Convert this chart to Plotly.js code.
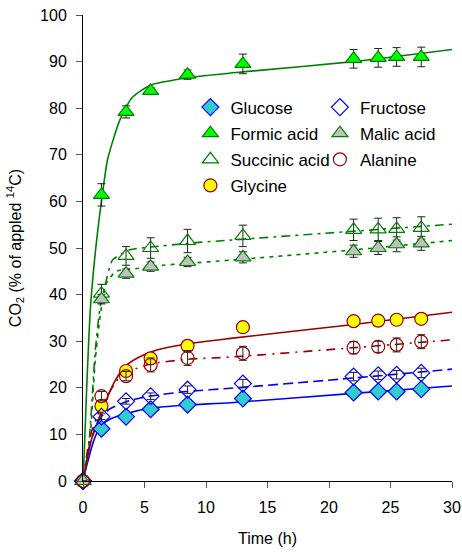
<!DOCTYPE html>
<html>
<head>
<meta charset="utf-8">
<script src="https://cdn.plot.ly/plotly-3.0.1.min.js"></script>
<style>html,body{margin:0;padding:0;background:#fff;}#chart{width:462px;height:552px;}</style>
</head>
<body>
<div id="chart"></div>
<script>
// Sampling times (h)
const time = [0, 1.5, 3.5, 5.5, 8.5, 13, 22, 24, 25.5, 27.5];

// Measured CO2 (% of applied 14C)
const glucose   = [0, 11.2, 13.8, 15.4, 16.4, 17.7, 19.0, 19.2, 19.2, 19.7];
const glucoseErr = [0, 0.3, 0.3, 0.3, 0.3, 0.3, 0.3, 0.3, 0.3, 0.3];
const fructose  = [0, 13.8, 17.1, 18.2, 19.6, 20.9, 22.4, 22.7, 22.8, 23.2];
const fructoseErr = [0, 0.6, 0.6, 0.7, 0.8, 0.9, 0.9, 0.9, 0.9, 1.0];
const formic    = [0, 61.4, 79.2, 83.7, 87.2, 89.5, 90.6, 90.8, 91.0, 91.0];
const formicErr = [0, 2.4, 1.3, 0.7, 1.0, 2.1, 2.0, 2.0, 2.0, 2.1];
const malic     = [0, 39.0, 44.5, 46.0, 47.0, 48.0, 49.3, 50.0, 50.8, 51.0];
const malicErr  = [0, 1.0, 1.0, 1.0, 1.0, 1.2, 1.3, 1.4, 1.6, 1.5];
const succinic  = [0, 40.2, 48.3, 50.0, 51.5, 52.6, 53.9, 54.0, 54.1, 54.3];
const succinicErr = [0, 2.0, 2.0, 2.2, 2.5, 2.3, 2.3, 2.4, 2.4, 2.4];
const alanine   = [0, 18.2, 22.5, 24.9, 26.4, 27.4, 28.6, 28.8, 29.2, 29.9];
const alanineErr = [0, 1.0, 1.0, 1.5, 1.6, 1.5, 1.3, 1.2, 1.5, 1.5];
const glycine   = [0, 16.1, 23.6, 26.3, 29.0, 33.0, 34.3, 34.4, 34.6, 34.8];
const glycineErr = [0, 0.2, 0.2, 0.2, 0.2, 0.2, 0.2, 0.2, 0.2, 0.2];

// Fitted curves
const fitFormicT   = [0, 0.1, 0.3, 0.6, 1.0, 1.5, 2.0, 3.0, 4.0, 5.5, 7.3, 10, 13, 22, 30];
const fitFormic    = [0, 6, 20, 37, 49, 60, 69, 77.5, 82.3, 85, 86, 87, 87.8, 90.0, 92.6];
const fitSuccT     = [0, 0.45, 1.0, 1.4, 1.8, 2.4, 3.8, 5.5, 8.5, 12, 22, 30];
const fitSucc      = [0, 7, 28, 37.5, 42, 47.4, 49.6, 50.2, 51.0, 51.7, 53.6, 55.1];
const fitMalicT    = [0, 0.5, 1.0, 1.4, 1.9, 2.7, 4.4, 6.5, 8.5, 12, 22, 30];
const fitMalic     = [0, 7, 26, 35.5, 42.4, 45.0, 45.6, 46.3, 46.7, 47.4, 49.6, 51.6];
const fitGlycineT  = [0, 0.35, 0.8, 1.5, 2.5, 3.4, 4.5, 6, 8.4, 12, 22, 30];
const fitGlycine   = [0, 5, 10, 14.8, 21, 24.5, 26.5, 28.1, 29.4, 30.6, 33.6, 36.2];
const fitAlanineT  = [0, 0.57, 1.4, 3, 4, 5.5, 8.4, 12, 22, 30];
const fitAlanine   = [0, 9.5, 15.5, 22.4, 23.8, 25.1, 26.1, 26.6, 28.6, 30.3];
const fitFructoseT = [0, 0.57, 1.4, 2.2, 3.5, 5.2, 8.4, 12, 22, 30];
const fitFructose  = [0, 8, 13.5, 15.5, 17.0, 18.1, 19.2, 19.9, 22.1, 24.0];
const fitGlucoseT  = [0, 0.35, 0.84, 1.4, 2.3, 3.4, 5.45, 8.4, 12, 22, 30];
const fitGlucose   = [0, 3.8, 8.4, 11.7, 13.4, 14.4, 15.6, 16.3, 16.8, 18.8, 20.4];

const xTicks = [0, 5, 10, 15, 20, 25, 30];
const yTicks = [0, 10, 20, 30, 40, 50, 60, 70, 80, 90, 100];

const BLUE = '#0000FF', GREEN = '#008000', RED = '#990000';

function fit(x, y, color, dash) {
  return {x: x, y: y, type: 'scatter', mode: 'lines', showlegend: false, hoverinfo: 'skip',
          line: {color: color, width: 1.6, dash: dash, shape: 'spline', smoothing: 0.6}};
}
function pts(name, y, err, symbol, fill, border, legend, size) {
  return {x: time, y: y, name: name, type: 'scatter', mode: 'markers', legend: legend,
          legendgroup: name, cliponaxis: false,
          marker: {symbol: symbol, size: size || 12, color: fill, line: {color: border, width: 1.2}},
          error_y: {type: 'data', array: err, visible: true, color: '#222', thickness: 1, width: 4}};
}

const data = [
  fit(fitGlucoseT, fitGlucose, BLUE, 'solid'),
  fit(fitFructoseT, fitFructose, BLUE, '10px,5px'),
  fit(fitFormicT, fitFormic, GREEN, 'solid'),
  fit(fitMalicT, fitMalic, GREEN, '4px,5px'),
  fit(fitSuccT, fitSucc, GREEN, '9px,5px,3px,5px'),
  fit(fitAlanineT, fitAlanine, RED, '9px,6px,2px,6px'),
  fit(fitGlycineT, fitGlycine, RED, 'solid'),
  pts('Glucose', glucose, glucoseErr, 'diamond', '#33CCCC', BLUE, 'legend', 13),
  pts('Formic acid', formic, formicErr, 'triangle-up', '#00FF00', GREEN, 'legend', 14),
  pts('Succinic acid', succinic, succinicErr, 'triangle-up-open', GREEN, GREEN, 'legend', 14),
  pts('Glycine', glycine, glycineErr, 'circle', '#FFFF00', RED, 'legend', 13),
  pts('Fructose', fructose, fructoseErr, 'diamond-open', BLUE, BLUE, 'legend2', 13),
  pts('Malic acid', malic, malicErr, 'triangle-up', '#C0C0C0', GREEN, 'legend2', 14),
  pts('Alanine', alanine, alanineErr, 'circle-open', RED, RED, 'legend2', 13)
];

const FAM = 'Liberation Sans, Arial, sans-serif';
const tickFont = {family: FAM, size: 16, color: '#000'};
const titleFont = {family: FAM, size: 16, color: '#000'};
const legFont = {family: FAM, size: 17, color: '#000'};
const layout = {
  width: 462, height: 552,
  margin: {l: 83, r: 10, t: 15, b: 71},
  paper_bgcolor: '#fff', plot_bgcolor: '#fff',
  font: tickFont,
  xaxis: {range: [0, 30], tickvals: xTicks, ticks: 'outside', ticklen: 6, tickcolor: '#555',
          showline: true, linecolor: '#000', linewidth: 1, showgrid: false, zeroline: false,
          tickfont: tickFont, ticklabelstandoff: 6,
          title: {text: 'Time (h)', font: titleFont, standoff: 17}},
  yaxis: {range: [0, 100], tickvals: yTicks, ticks: 'outside', ticklen: 6, tickcolor: '#555',
          showline: true, linecolor: '#000', linewidth: 1, showgrid: false, zeroline: false,
          tickfont: tickFont, ticklabelstandoff: 6,
          title: {text: 'CO<sub>2</sub> (% of appled <sup>14</sup>C)', font: titleFont, standoff: 14}},
  legend: {x: 0.291, y: 0.840, xanchor: 'left', yanchor: 'top', bgcolor: 'rgba(0,0,0,0)',
           font: legFont, itemwidth: 30, tracegroupgap: 1},
  legend2: {x: 0.642, y: 0.840, xanchor: 'left', yanchor: 'top', bgcolor: 'rgba(0,0,0,0)',
           font: legFont, itemwidth: 30, tracegroupgap: 1},
  showlegend: true
};

Plotly.newPlot('chart', data, layout, {displayModeBar: false, staticPlot: true});
</script>
</body>
</html>
